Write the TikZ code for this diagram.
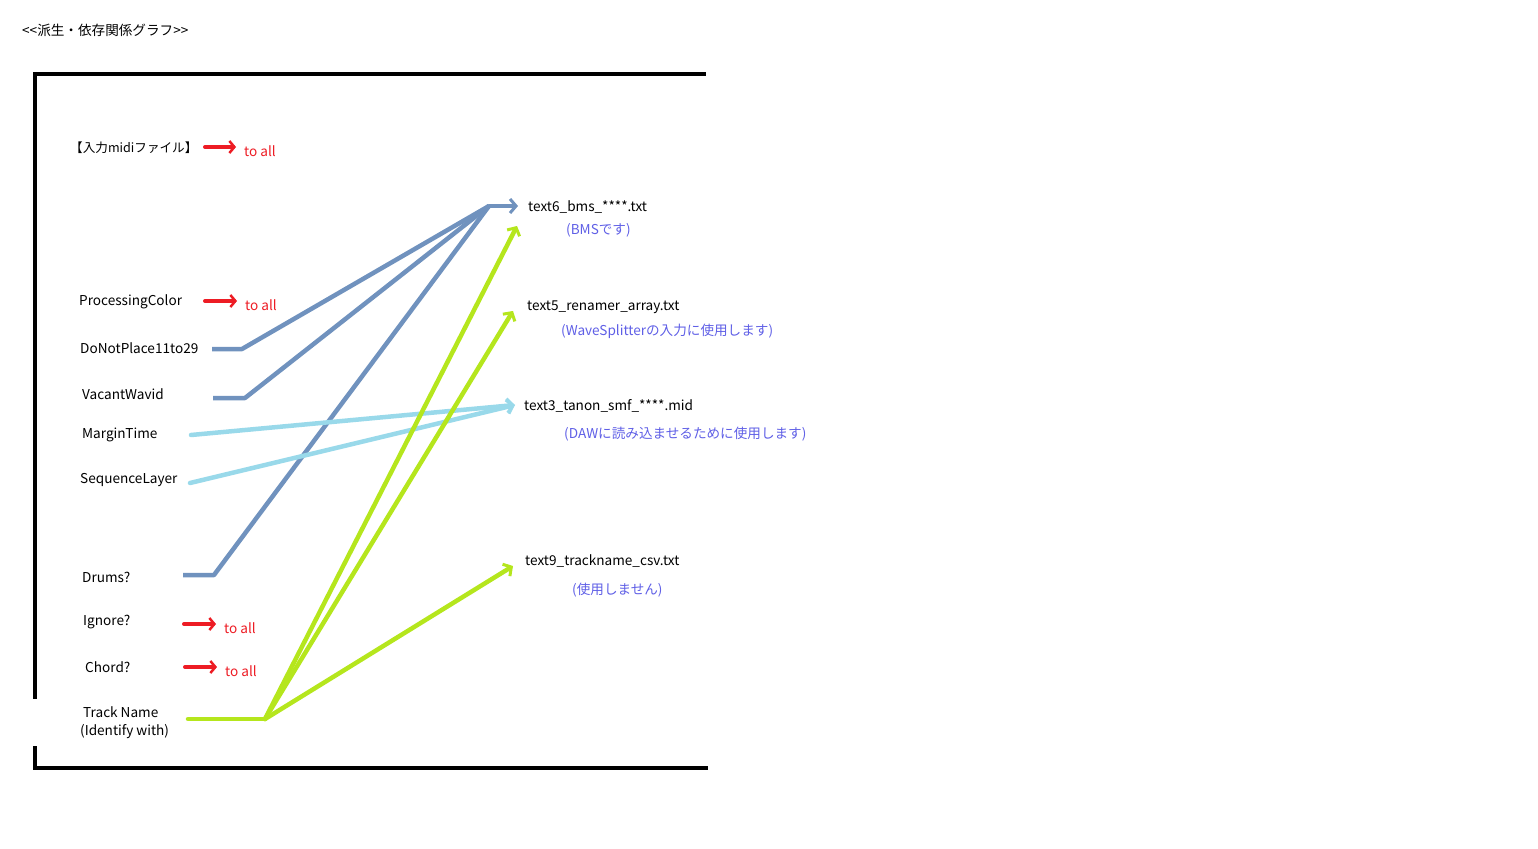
\documentclass[tikz,border=0pt]{standalone}
\usepackage{fontspec}
\setmainfont{Noto Sans CJK JP}
\usetikzlibrary{arrows.meta}
\definecolor{pred}{HTML}{ED1C24}
\definecolor{psteel}{HTML}{7092BE}
\definecolor{plight}{HTML}{99D9EA}
\definecolor{plime}{HTML}{B5E61D}
\definecolor{pnote}{HTML}{5F5FE6}
\tikzset{
  lbl/.style={anchor=west, inner sep=0pt, yshift=-1.5pt, font=\fontsize{13.6}{18}\selectfont, text=black},
  note/.style={lbl, text=pnote},
  toall/.style={lbl, text=pred},
  frame/.style={line width=4.5pt, black},
  redarrow/.style={pred, line width=4pt, line cap=round, -{Straight Barb[length=5pt,width=12pt,line width=2.5pt]}},
  steelline/.style={psteel, line width=4.5pt, line join=round},
  lightline/.style={plight, line width=4.5pt, line cap=round},
  limeline/.style={plime, line width=4.5pt, line cap=round},
  barb/.style={-{Straight Barb[length=6pt,width=14pt,line width=3pt]}}
}
\begin{document}
\begin{tikzpicture}[x=1pt,y=-1pt]
\useasboundingbox (0,0) rectangle (1538,848);
% frame
\draw[frame] (33,74) -- (706,74);
\draw[frame] (35,72) -- (35,699);
\draw[frame] (35,746) -- (35,770);
\draw[frame] (33,768) -- (708,768);
% title
\node[lbl] (title) at (22,29) {{<}{<}派生・依存関係グラフ{>}{>}};
% inputs
\node[lbl, font=\fontsize{12.6}{16}\selectfont] (midi) at (70,146) {【入力midiファイル】};
\node[lbl] (pc) at (79,300) {ProcessingColor};
\node[lbl] (dnp) at (80,347) {DoNotPlace11to29};
\node[lbl] (vw) at (82,393) {VacantWavid};
\node[lbl] (mt) at (82,433) {MarginTime};
\node[lbl] (sl) at (80,479) {SequenceLayer};
\node[lbl] (dr) at (82,576) {Drums?};
\node[lbl] (ig) at (83,621) {Ignore?};
\node[lbl] (ch) at (85,666) {Chord?};
\node[lbl, align=left] (tn) at (80,721) {\ Track Name\\(Identify with)};
% to all
\node[toall] (ta1) at (244,150) {to all};
\node[toall] (ta2) at (245,304) {to all};
\node[toall] (ta3) at (224,627) {to all};
\node[toall] (ta4) at (225,670) {to all};
\coordinate (r1) at (205,147);
\coordinate (e1) at (236,147);
\coordinate (r2) at (205,301);
\coordinate (e2) at (237,301);
\coordinate (r3) at (184,624);
\coordinate (e3) at (216,624);
\coordinate (r4) at (185,667);
\coordinate (e4) at (217,667);
\draw[redarrow] (r1) -- (e1);
\draw[redarrow] (r2) -- (e2);
\draw[redarrow] (r3) -- (e3);
\draw[redarrow] (r4) -- (e4);
% outputs
\node[lbl] (o6) at (528,206) {text6\_bms\_****.txt};
\node[note] (n6) at (566,229) {(BMSです)};
\node[lbl] (o5) at (527,306) {text5\_renamer\_array.txt};
\node[note] (n5) at (561,330) {(WaveSplitterの入力に使用します)};
\node[lbl] (o3) at (524,404) {text3\_tanon\_smf\_****.mid};
\node[note] (n3) at (564,433) {(DAWに読み込ませるために使用します)};
\node[lbl] (o9) at (525,560) {text9\_trackname\_csv.txt};
\node[note] (n9) at (572,589) {(使用しません)};
% steel lines
\coordinate (hub6) at (489,206);
\coordinate (a6) at (518,206);
\coordinate (s1) at (212,349);
\coordinate (s1b) at (242,349);
\coordinate (s2) at (213,398);
\coordinate (s2b) at (245,398);
\coordinate (s3) at (183,575);
\coordinate (s3b) at (214,575);
\draw[steelline] (s1) -- (s1b) -- (hub6);
\draw[steelline] (s2) -- (s2b) -- (hub6);
\draw[steelline] (s3) -- (s3b) -- (hub6);
\draw[steelline, line cap=round, barb] (hub6) -- (a6);
% light lines
\coordinate (l1) at (191,435);
\coordinate (l2) at (190,483);
\coordinate (a3) at (515,405);
\draw[lightline, barb] (l1) -- (a3);
\draw[lightline, barb] (l2) -- (a3);
% lime lines
\coordinate (g0) at (188,719);
\coordinate (ghub) at (265,719);
\coordinate (g6) at (517,226);
\coordinate (g5) at (513,311);
\coordinate (g9) at (513,566);
\draw[limeline] (g0) -- (ghub);
\draw[limeline, barb] (ghub) -- (g6);
\draw[limeline, barb] (ghub) -- (g5);
\draw[limeline, barb] (ghub) -- (g9);
\end{tikzpicture}
\end{document}
